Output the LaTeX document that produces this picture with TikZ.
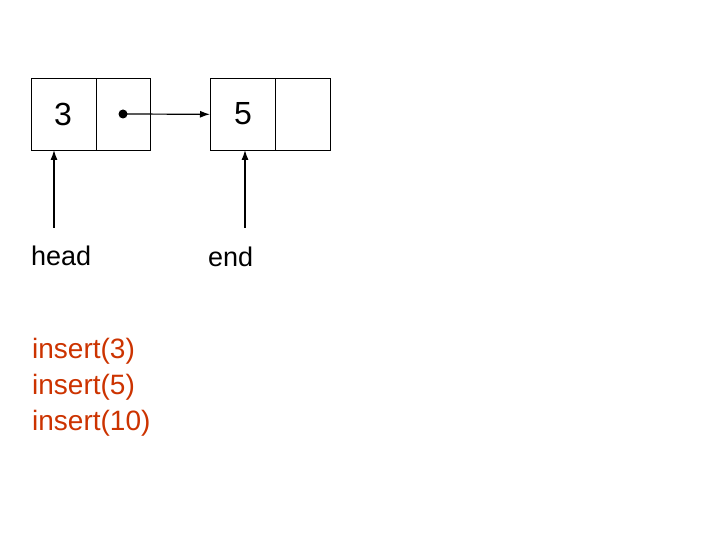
\documentclass[tikz,border=0pt]{standalone}
\usepackage{fontspec}
\setmainfont{Liberation Sans}
\usetikzlibrary{arrows.meta}
\definecolor{red1}{RGB}{204,51,0}
\begin{document}
\begin{tikzpicture}[x=1pt,y=-1pt,
  cell/.style={draw,line width=0.6pt,minimum height=72pt,inner sep=0pt,anchor=north west},
  lbl/.style={font=\fontsize{27}{30}\selectfont,anchor=west,inner sep=0pt},
  code/.style={font=\fontsize{28}{36}\selectfont,text=red1,align=left,anchor=north west,inner sep=0pt},
  arr/.style={-{Latex[length=10pt,width=7pt]},line width=1.2pt}]
\useasboundingbox (0,0) rectangle (720,540);
\node[cell,minimum width=65pt] (a1) at (31,78) {};
\node[cell,minimum width=54pt] (a2) at (96,78) {};
\node[cell,minimum width=65pt] (b1) at (210,78) {};
\node[cell,minimum width=55pt] (b2) at (275,78) {};
\node[font=\fontsize{32}{34}\selectfont] (t3) at (63,114) {3};
\node[font=\fontsize{32}{34}\selectfont] (t5) at (243,114) {5};
\fill (123,114) circle (4.5pt) coordinate (dot);
\draw[arr] (dot) -- (b1.west);
\node[lbl] (head) at (31,256) {head};
\node[lbl] (end) at (208,257) {end};
\coordinate (h0) at (54,228);
\coordinate (e0) at (245,228);
\draw[arr] (h0) -- (54,150);
\draw[arr] (e0) -- (245,150);
\node[code] (code) at (32,338) {insert(3)\\insert(5)\\insert(10)};
\end{tikzpicture}
\end{document}
